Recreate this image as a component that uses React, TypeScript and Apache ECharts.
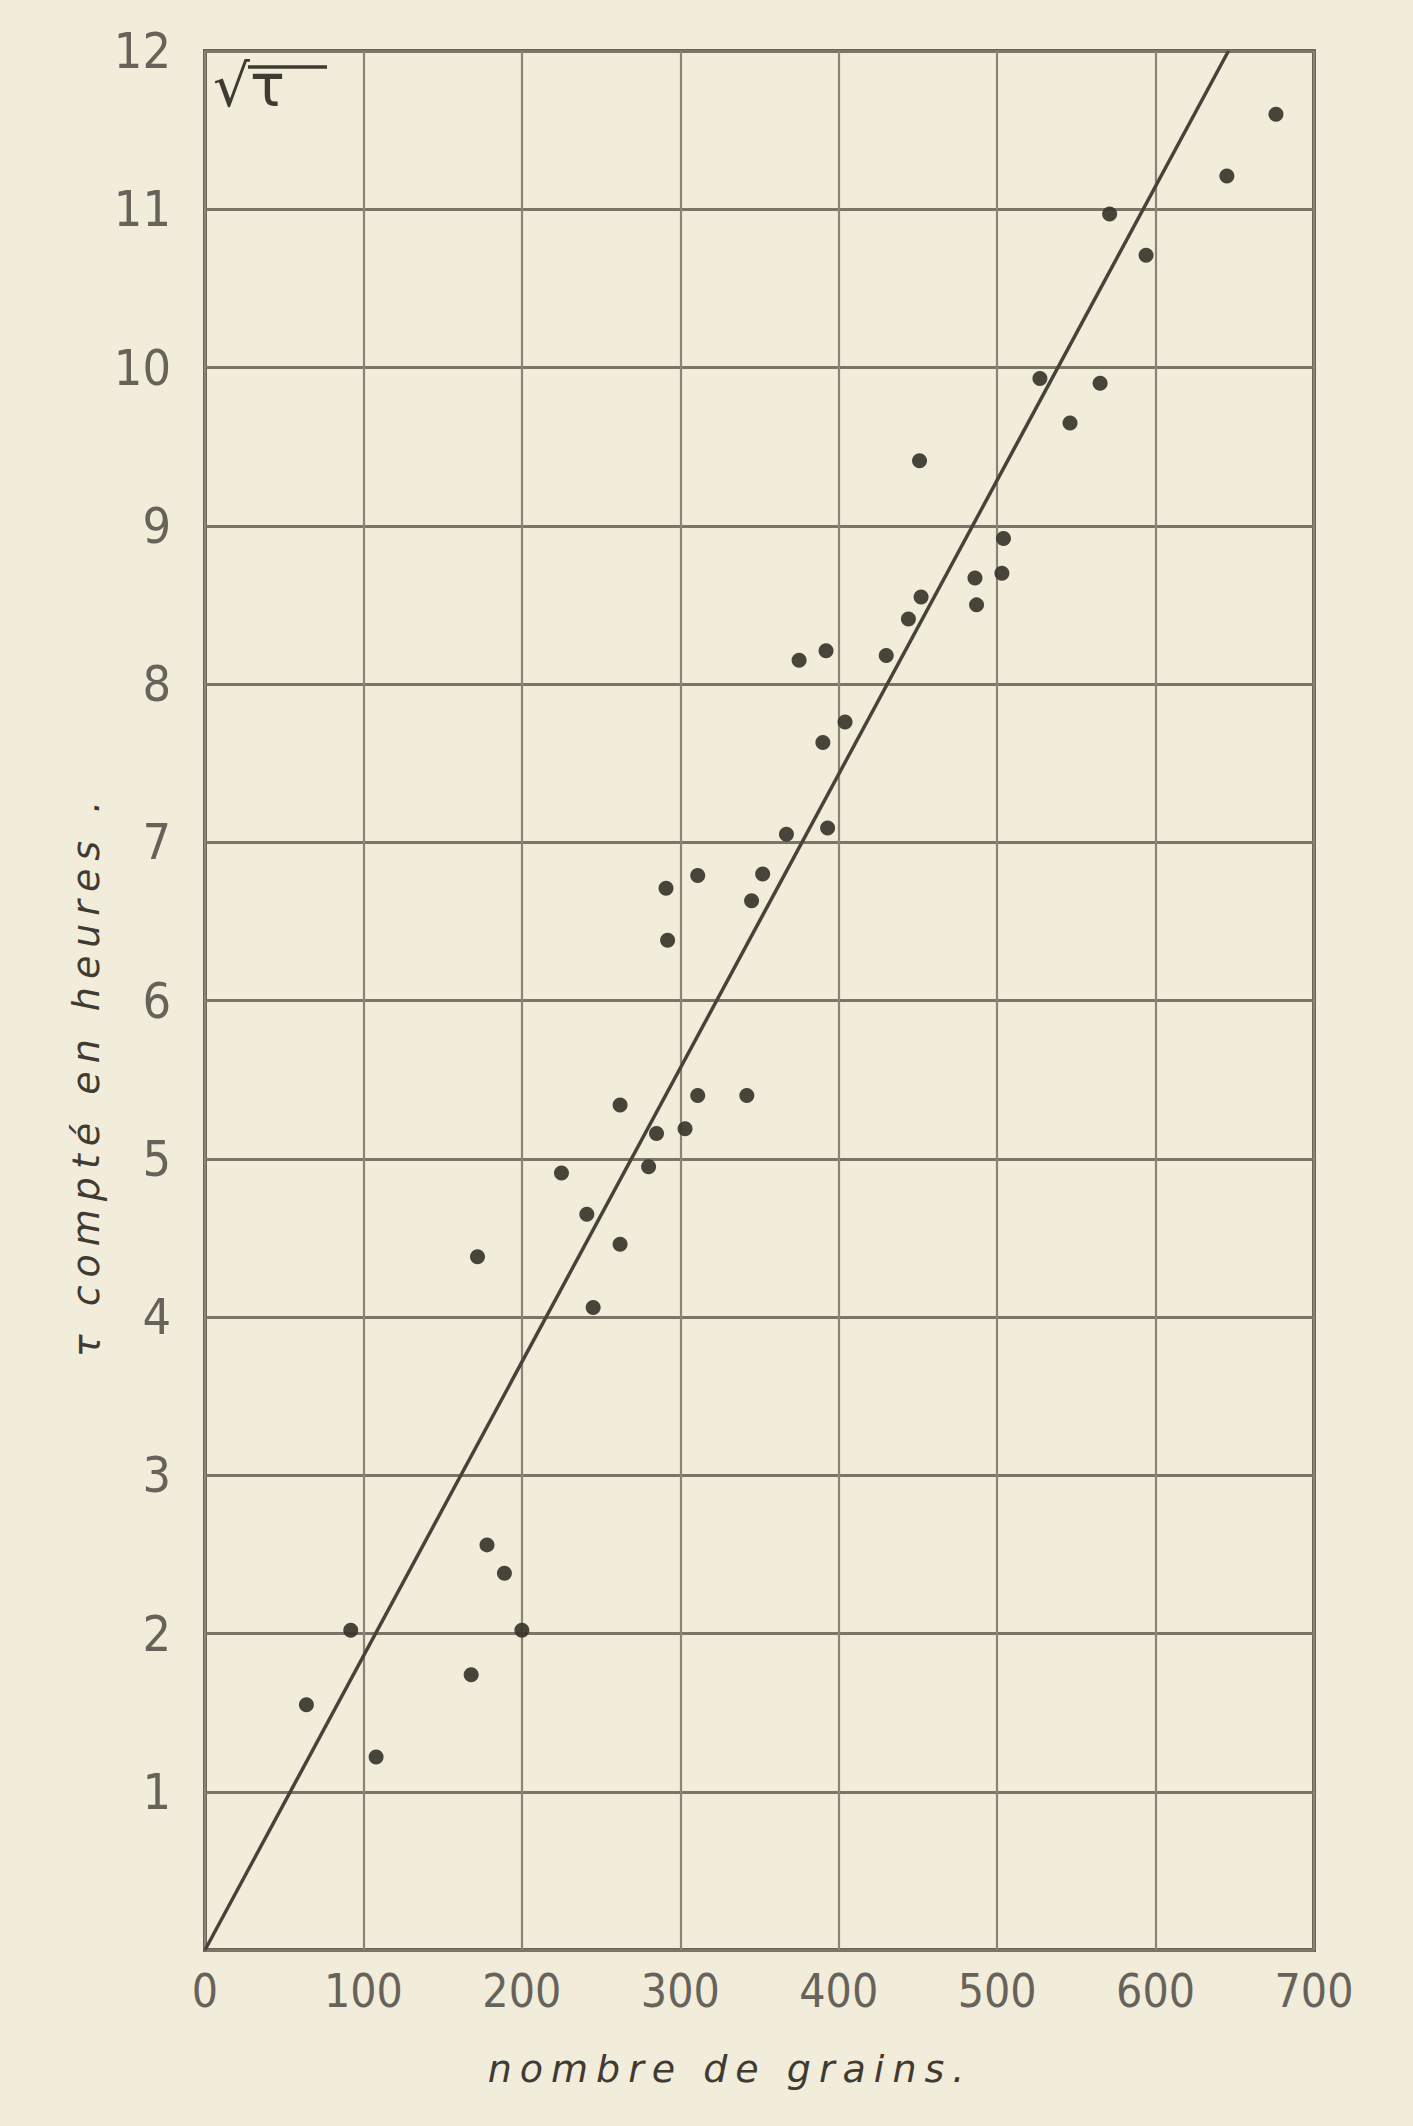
import React, { useEffect, useRef } from "react";
import * as echarts from "echarts";

// nombre de grains (x) and sqrt(tau) (y)
const grains = [64, 92, 108, 168, 178, 189, 200, 172, 245, 262, 241, 225, 280, 285, 303, 262, 311, 342, 292, 291, 311, 345, 352, 367, 393, 390, 404, 375, 392, 430, 444, 452, 486, 487, 503, 504, 451, 527, 565, 546, 571, 594, 645, 676];
const sqrtTau = [1.55, 2.02, 1.22, 1.74, 2.56, 2.38, 2.02, 4.38, 4.06, 4.46, 4.65, 4.91, 4.95, 5.16, 5.19, 5.34, 5.4, 5.4, 6.38, 6.71, 6.79, 6.63, 6.8, 7.05, 7.09, 7.63, 7.76, 8.15, 8.21, 8.18, 8.41, 8.55, 8.67, 8.5, 8.7, 8.92, 9.41, 9.93, 9.9, 9.65, 10.97, 10.71, 11.21, 11.6];
// straight line drawn through the origin
const fitLineX = [0, 646];
const fitLineY = [0, 12];
const xTickLabels = ["0", "100", "200", "300", "400", "500", "600", "700"];
const yTickLabels = ["", "1", "2", "3", "4", "5", "6", "7", "8", "9", "10", "11", "12"];

const xName = "nombre de grains.";
const yName = "τ compté en heures .";
const cornerLabel = "√τ";

const PAPER = "#f2ecdb";
const GRID_H = "#7c7567";
const GRID_V = "#8b8476";
const BORDER = "#696255";
const INK = "#38352b";
const TICK_TEXT = "#67635a";
const NAME_TEXT = "#3f3b32";
const TICK_FONT = "'DejaVu Sans Condensed', 'Liberation Sans Narrow', 'Liberation Sans', sans-serif";

export default function App() {
  const ref = useRef<HTMLDivElement>(null);
  useEffect(() => {
    document.body.style.margin = "0";
    document.body.style.background = PAPER;
    if (!ref.current) return;
    const chart = echarts.init(ref.current, null, { renderer: "svg" });
    const left = 205, top = 51, width = 1109, height = 1899;
    chart.setOption({
      animation: false,
      backgroundColor: PAPER,
      grid: {
        left, top, width, height,
        show: true,
        borderColor: BORDER,
        borderWidth: 4,
        backgroundColor: "transparent",
      },
      xAxis: {
        type: "value",
        min: 0,
        max: 700,
        interval: 100,
        axisLine: { show: false },
        axisTick: { show: false },
        splitLine: { show: true, lineStyle: { color: GRID_V, width: 2.2 } },
        axisLabel: {
          margin: 18,
          fontFamily: TICK_FONT,
          fontSize: 46,
          color: TICK_TEXT,
          formatter: (v: number) => xTickLabels[Math.round(v / 100)] ?? "",
        },
      },
      yAxis: {
        type: "value",
        min: 0,
        max: 12,
        interval: 1,
        axisLine: { show: false },
        axisTick: { show: false },
        splitLine: { show: true, lineStyle: { color: GRID_H, width: 3 } },
        axisLabel: {
          margin: 34,
          fontFamily: TICK_FONT,
          fontSize: 50,
          color: TICK_TEXT,
          formatter: (v: number) => yTickLabels[Math.round(v)] ?? "",
        },
      },
      series: [
        {
          type: "line",
          data: fitLineX.map((x, i) => [x, fitLineY[i]]),
          symbol: "none",
          lineStyle: { color: "#47433a", width: 3.5 },
          silent: true,
          z: 3,
        },
        {
          type: "scatter",
          data: grains.map((x, i) => [x, sqrtTau[i]]),
          symbol: "circle",
          symbolSize: 15,
          itemStyle: { color: INK, opacity: 0.92 },
          z: 4,
        },
      ],
      graphic: [
        {
          type: "text",
          x: 730,
          y: 2069,
          style: {
            text: xName,
            align: "center",
            verticalAlign: "middle",
            fontFamily: "'DejaVu Sans', sans-serif",
            fontStyle: "italic",
            fontSize: 38,
            fill: NAME_TEXT,
          },
        },
        {
          type: "text",
          x: 86,
          y: 1075,
          rotation: Math.PI / 2,
          style: {
            text: yName,
            align: "center",
            verticalAlign: "middle",
            fontFamily: "'DejaVu Sans', sans-serif",
            fontStyle: "italic",
            fontSize: 38,
            fill: NAME_TEXT,
          },
        },
        {
          type: "text",
          x: 213,
          y: 57,
          style: {
            text: cornerLabel,
            fontFamily: "'DejaVu Sans', sans-serif",
            fontSize: 58,
            fill: NAME_TEXT,
          },
        },
        {
          type: "line",
          shape: { x1: 248, y1: 67, x2: 327, y2: 67 },
          style: { stroke: NAME_TEXT, lineWidth: 3.5 },
        },
      ],
    });
    // emulate the wide letter spacing of the printed axis titles
    const texts = ref.current.querySelectorAll("text");
    texts.forEach((t) => {
      const s = t.textContent || "";
      if (s === xName || s === yName) {
        (t as SVGTextElement).style.letterSpacing = "8px";
      }
    });
    return () => chart.dispose();
  }, []);
  return <div ref={ref} style={{ width: 1413, height: 2126 }} />;
}
